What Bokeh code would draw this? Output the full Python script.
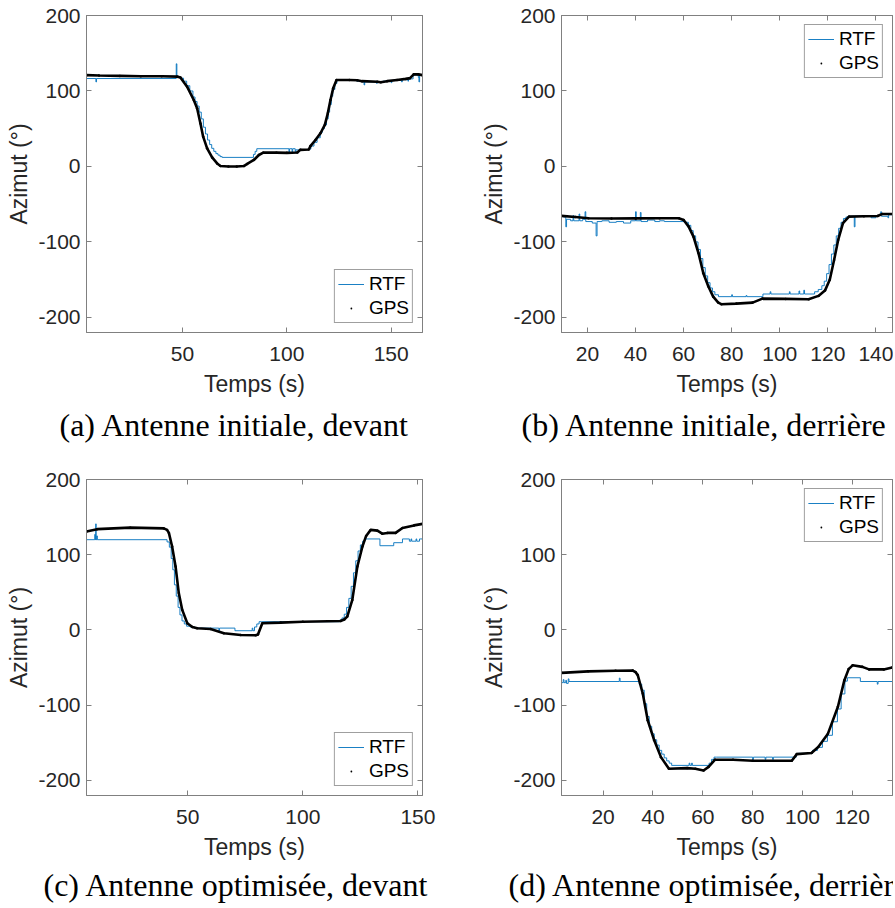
from bokeh.plotting import figure
from bokeh.models import Range1d, FixedTicker, LinearAxis, Legend, LegendItem, Title
from bokeh.layouts import column, row
from bokeh.embed import file_html
from bokeh.resources import INLINE

# ---------------- data ----------------
y_ticks = [-200, -100, 0, 100, 200]
a_x_ticks = [50, 100, 150]
b_x_ticks = [20, 40, 60, 80, 100, 120, 140]
c_x_ticks = [50, 100, 150]
d_x_ticks = [20, 40, 60, 80, 100, 120]

captions = ["(a) Antenne initiale, devant",
            "(b) Antenne initiale, derrière",
            "(c) Antenne optimisée, devant",
            "(d) Antenne optimisée, derrière"]

# (a) initial antenna, front
a_gps_t = [4, 10, 20, 30, 40, 47.5, 49, 52.2, 55.4, 57,
           58.6, 59.9, 61.8, 64.2, 66.6, 68.2, 72, 76, 79.4, 81,
           84.2, 86.6, 88.7, 95, 100, 105, 106.5, 110.5, 111.3, 113.7,
           116.1, 118.2, 119.6, 120.9, 122.2, 123.8, 130, 133.7, 136, 143.3,
           145, 148, 152.8, 157, 159, 160.8, 163, 165]
a_gps_az = [121, 120.5, 120, 119.5, 119.5, 119, 118, 105.7, 88, 77,
            57, 39.5, 24, 12, 4, 0.7, 0, 0, 0.5, 3.3,
            8.6, 15.2, 18.3, 18.3, 18, 18.5, 22, 22.5, 27, 35,
            44, 55, 70, 88, 103.5, 114.6, 114.6, 114.3, 113, 112.3,
            111.5, 113, 114.6, 116, 117, 122, 122, 121]
a_rtf_t = [4, 8.5, 8.8, 47, 47.3, 49, 50.5, 52, 53.5, 55,
           56, 57, 58, 59, 60, 61, 62, 63, 64, 65,
           66, 67, 68, 69, 84, 84.8, 85.6, 101, 101.3, 102.5,
           102.8, 104, 104.3, 106.5, 110.5, 111.5, 113, 114.5, 116, 117,
           118, 119, 119.8, 120.5, 121.3, 122, 123, 124, 133.5, 136,
           137, 137.3, 143, 143.3, 146, 150, 150.3, 155, 155.3, 158,
           158.3, 160.5, 163, 163.3, 163.6, 165]
a_rtf_az = [116.5, 112, 116.5, 136, 118, 117, 113, 107, 100, 92,
            86, 80, 72, 63, 52, 43, 35, 29, 24, 20,
            17, 15, 13, 12, 16, 20, 23.5, 19, 23.5, 19,
            23.5, 18.5, 22, 22.5, 23, 27, 32, 38, 45, 50,
            55, 63, 72, 82, 93, 102, 110, 114.5, 113, 112,
            108, 112, 110, 112, 113, 111, 114, 112, 115, 113,
            116, 121, 118, 112, 121, 121]

# (b) initial antenna, rear
b_gps_t = [9.2, 15, 20.4, 30, 40, 50, 58, 60, 62.1, 64.1,
           66.2, 68.2, 70.3, 72.3, 74.4, 75.7, 81.9, 88.7, 92.8, 102.4,
           112, 116.1, 118.8, 120.8, 122.6, 124.3, 126.3, 128.8, 135, 140.7,
           142.7, 147]
b_gps_az = [-65.5, -67, -68.6, -69, -68.8, -68.6, -68.6, -70.9, -79.7, -93,
            -115, -141.5, -159, -172.5, -180.4, -182.5, -181.7, -180.4, -175.1, -175.5,
            -176, -171.5, -164.5, -150, -124, -97.4, -75.2, -66.5, -66, -65.6,
            -62.9, -62.9]
b_rtf_t = [9.2, 10, 11, 11.3, 13, 14, 14.3, 16.5, 16.8, 18,
           19, 19.3, 22, 23.6, 24, 26, 29, 32, 35, 38,
           40, 40.3, 42, 42.3, 45, 48, 50, 52, 60.5, 62,
           63, 64, 65, 66, 67, 68, 69, 70, 71, 72,
           73, 74.5, 80, 80.3, 86, 86.3, 93, 96, 96.3, 104,
           104.3, 108, 108.3, 110, 110.3, 113, 114.5, 116, 117.5, 118.5,
           119.5, 120.5, 121.5, 122.5, 123.5, 124.5, 125.5, 126.5, 127.5, 128.5,
           131, 131.3, 136, 138, 140, 142, 142.3, 145, 145.3, 147]
b_rtf_az = [-66, -67, -80, -70, -72, -65, -72, -63, -72, -70,
            -60, -73, -75, -92, -73, -72, -74, -73, -75, -72,
            -60, -72, -61, -73, -71, -73, -72, -73, -74, -78,
            -85, -92, -100, -110, -122, -134, -145, -154, -161, -166,
            -170, -172.5, -170, -172.5, -171, -172.5, -169, -166, -169, -166,
            -169, -165, -169, -164, -169, -169, -166, -163, -158, -152,
            -142, -130, -116, -104, -92, -82, -74, -69, -67, -66,
            -80, -66, -66, -68, -65, -60, -66, -68, -64, -65]

# (c) optimised antenna, front
c_gps_t = [6, 10.6, 25, 39.6, 41, 41.8, 43.2, 44.7, 46.1, 47.6,
           49.8, 52, 54.1, 59.9, 65.7, 73, 79.5, 80.5, 82.4, 90.3,
           100, 116.4, 118, 119.3, 121.5, 123.7, 125.9, 127.5, 129.5, 132.4,
           134.5, 136.7, 140.3, 143.3, 148.3, 152]
c_gps_az = [131, 134, 136, 135, 133, 129, 111, 84.4, 49, 26.7,
            9, 4, 2.2, 1.3, -4.4, -6.7, -7, -6, 9, 9.8,
            11, 12, 14, 17.8, 40, 84.4, 111, 125, 133, 132,
            128, 129, 129, 135.6, 139, 141]
c_rtf_t = [6, 9.6, 9.8, 10, 10.2, 10.5, 10.7, 41, 42, 42.8,
           43.5, 44.2, 45, 45.8, 46.6, 47.5, 48.5, 49.5, 51, 53,
           63.5, 63.8, 70.5, 78, 78.3, 79, 80, 81, 82, 116,
           117, 118, 119, 120, 121, 122, 123, 124, 125, 126,
           127, 128, 133.5, 139.5, 143.3, 146.3, 147, 147.3, 149.2, 149.5,
           150.7, 151, 152]
c_rtf_az = [120, 127, 120, 141, 120, 125, 120, 117, 110, 95,
            80, 60, 45, 30, 20, 12, 8, 5, 4, 2.5,
            -1, 2.5, -1, 2.5, -1, 4, 8, 11, 11, 13,
            16, 21, 30, 42, 58, 76, 92, 105, 113, 118,
            121, 121, 112, 116, 121, 118, 121, 118, 121, 118,
            121, 121, 121]

# (d) optimised antenna, rear
d_gps_t = [3.3, 14, 25, 31.9, 33, 33.9, 35.9, 37.9, 40.5, 43.2,
           46.4, 53.7, 57, 60.3, 62.3, 64.9, 72.1, 80, 95.7, 97.7,
           103.6, 106.3, 110.2, 114.2, 116.8, 118.5, 120.1, 124, 126.7, 132.6,
           136]
d_gps_az = [-57, -55, -54.2, -54, -56, -60, -84.4, -120, -146.7, -169,
            -184.4, -183.6, -184.5, -186.7, -182, -172.4, -172.4, -173.8, -173.8, -165,
            -163.6, -155.6, -137.8, -102, -66.7, -52, -47, -49, -52.4, -52.4,
            -49.8]
d_rtf_t = [3.3, 4, 4.3, 5, 5.3, 6, 6.3, 26.5, 26.8, 34.5,
           35.5, 36.5, 37.5, 38.5, 39.5, 40.5, 41.5, 42.5, 43.5, 44.5,
           45.5, 46.5, 47.5, 54.5, 54.8, 55.5, 55.8, 62.5, 63.5, 64.5,
           65.5, 80, 80.3, 85, 85.3, 88, 88.3, 97.5, 98, 104,
           106, 108, 110, 112, 114, 115.5, 117, 118, 123.2, 130,
           130.3, 136]
d_rtf_az = [-70, -66, -70, -67, -71, -65, -68.5, -64, -68.5, -72,
            -80, -98, -115, -128, -138, -146, -153, -160, -165, -170,
            -174, -177, -180, -177, -180, -177, -180, -177, -172, -169,
            -169, -172, -169, -172, -169, -172, -169, -165, -164, -160,
            -156, -148, -140, -122, -105, -85, -68, -63.5, -68.5, -72,
            -68.5, -68.5]

# ---------------- style ----------------
AXC = "#808080"
TXT = "#262626"
BLUE = "#0072BD"
SANS = "Liberation Sans"
SERIF = "Liberation Serif"


def style_axis(ax, show_labels=True):
    ax.axis_line_color = AXC
    ax.axis_line_width = 1
    ax.major_tick_line_color = AXC
    ax.major_tick_in = 5
    ax.major_tick_out = 0
    ax.minor_tick_line_color = None
    if show_labels:
        ax.major_label_text_font = SANS
        ax.major_label_text_font_size = "21px"
        ax.major_label_text_color = TXT
        ax.axis_label_text_font = SANS
        ax.axis_label_text_font_size = "23px"
        ax.axis_label_text_font_style = "normal"
        ax.axis_label_text_color = TXT
    else:
        ax.major_label_text_color = None
        ax.major_label_text_font_size = "1px"
        ax.major_label_standoff = 0


def panel(rtf_t, rtf_az, gps_t, gps_az, x_start, x_end, x_ticks, caption,
          cap_offset, cap_standoff, leg_loc, w, h, bl, br, bt, bb):
    p = figure(width=w, height=h, x_range=Range1d(x_start, x_end),
               y_range=Range1d(-220, 200), output_backend="svg",
               toolbar_location=None, min_border_left=bl, min_border_right=br,
               min_border_top=bt, min_border_bottom=bb,
               x_axis_label="Temps (s)", y_axis_label="Azimut (°)")
    p.grid.visible = False
    p.outline_line_color = AXC
    p.background_fill_color = "white"
    p.border_fill_color = "white"

    r_rtf = p.step(rtf_t, rtf_az, mode="after", line_color=BLUE, line_width=0.9)
    p.line(gps_t, gps_az, line_color="black", line_width=2.6)
    r_gps = p.scatter(gps_t, gps_az, marker="dot", size=10,
                      fill_color="black", line_color="black")

    p.xaxis.ticker = FixedTicker(ticks=x_ticks)
    p.yaxis.ticker = FixedTicker(ticks=y_ticks)
    p.yaxis.major_label_overrides = {v: str(v) for v in y_ticks}
    p.xaxis.major_label_standoff = 14
    p.xaxis.axis_label_standoff = 7
    p.yaxis.major_label_standoff = 6
    p.yaxis.axis_label_standoff = 3
    style_axis(p.xaxis[0])
    style_axis(p.yaxis[0])

    top = LinearAxis(ticker=FixedTicker(ticks=x_ticks))
    style_axis(top, show_labels=False)
    p.add_layout(top, "above")
    right = LinearAxis(ticker=FixedTicker(ticks=y_ticks))
    style_axis(right, show_labels=False)
    p.add_layout(right, "right")

    legend = Legend(items=[LegendItem(label="RTF", renderers=[r_rtf]),
                           LegendItem(label="GPS", renderers=[r_gps])],
                    location=leg_loc, margin=9, padding=3, spacing=2,
                    glyph_width=26, glyph_height=18, label_height=18,
                    label_standoff=5, label_text_font=SANS,
                    label_text_font_size="19px", label_text_color="black",
                    border_line_color="#404040", border_line_width=1,
                    background_fill_color="white", background_fill_alpha=1)
    p.add_layout(legend)

    p.add_layout(Title(text=caption, align="left", offset=cap_offset,
                       text_font=SERIF, text_font_size="32px",
                       text_font_style="normal", text_color="black",
                       standoff=cap_standoff), "below")
    return p


pa = panel(a_rtf_t, a_rtf_az, a_gps_t, a_gps_az, 4, 165, a_x_ticks, captions[0],
           -27, 11, "bottom_right", 478, 465, 86, 56, 15, 133)
pb = panel(b_rtf_t, b_rtf_az, b_gps_t, b_gps_az, 9.2, 146.9, b_x_ticks, captions[1],
           -40, 11, "top_right", 415, 465, 78, 1, 15, 133)
pc = panel(c_rtf_t, c_rtf_az, c_gps_t, c_gps_az, 6, 152, c_x_ticks, captions[2],
           -43, 5, "bottom_right", 478, 443, 86, 56, 14, 113)
pd = panel(d_rtf_t, d_rtf_az, d_gps_t, d_gps_az, 3.3, 136.1, d_x_ticks, captions[3],
           -53, 5, "top_right", 415, 443, 78, 1, 14, 113)

layout = column(row(pa, pb), row(pc, pd))
open("out.html", "w").write(file_html(layout, INLINE))
